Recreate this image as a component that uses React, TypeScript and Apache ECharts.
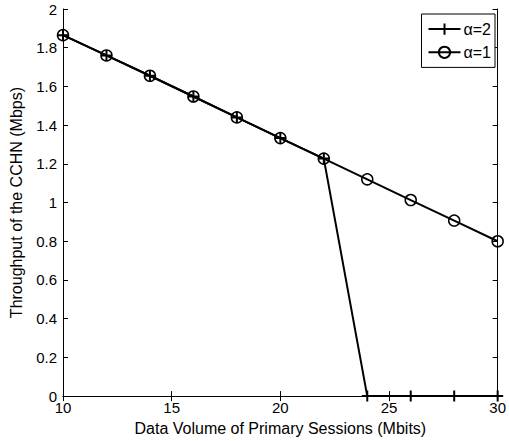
import React, { useEffect, useRef } from "react";
import * as echarts from "echarts";

const xValues = [10, 12, 14, 16, 18, 20, 22, 24, 26, 28, 30];
const alpha2 = [1.865, 1.76, 1.655, 1.548, 1.44, 1.333, 1.227, 0, 0, 0, 0];
const alpha1 = [1.865, 1.76, 1.655, 1.548, 1.44, 1.333, 1.227, 1.12, 1.013, 0.907, 0.8];
const seriesNames = ["\u03b1=2", "\u03b1=1"];
const xTitle = "Data Volume of Primary Sessions (Mbits)";
const yTitle = "Throughput of the CCHN (Mbps)";

const FONT = "Liberation Sans, Arial, Helvetica, sans-serif";
const plusPath = "path://M0,5L10,5M5,0L5,10";

export default function App() {
  const ref = useRef<HTMLDivElement>(null);
  useEffect(() => {
    document.body.style.margin = "0";
    const chart = echarts.init(ref.current!, undefined, { renderer: "svg" });
    const axisCommon = {
      axisLine: { show: true, lineStyle: { color: "#000", width: 1 } },
      axisTick: { show: true, inside: true, length: 5, lineStyle: { color: "#000" } },
      splitLine: { show: false },
    };
    chart.setOption({
      animation: false,
      backgroundColor: "#fff",
      textStyle: { fontFamily: FONT },
      grid: { left: 55, right: 8, top: 9, bottom: 44, containLabel: false },
      legend: {
        right: 14,
        top: 14,
        orient: "vertical",
        itemWidth: 32,
        itemHeight: 14,
        itemGap: 7,
        padding: [7, 4, 7, 6],
        borderColor: "#000",
        borderWidth: 1,
        backgroundColor: "#fff",
        borderRadius: 0,
        textStyle: { fontFamily: FONT, fontSize: 16, color: "#000", padding: [0, 0, 0, -2] },
        data: [{ name: seriesNames[0] }, { name: seriesNames[1] }],
      },
      xAxis: [
        {
          type: "value",
          min: 10,
          max: 30,
          interval: 5,
          ...axisCommon,
          axisLabel: { color: "#000", fontSize: 15, fontFamily: FONT, margin: 4 },
          name: xTitle,
          nameLocation: "middle",
          nameGap: 23,
          nameTextStyle: { color: "#000", fontSize: 16, fontFamily: FONT },
        },
        {
          type: "value",
          position: "top",
          min: 10,
          max: 30,
          interval: 5,
          ...axisCommon,
          axisLabel: { show: false },
        },
      ],
      yAxis: [
        {
          type: "value",
          min: 0,
          max: 2,
          interval: 0.2,
          ...axisCommon,
          axisLabel: { color: "#000", fontSize: 15, fontFamily: FONT, margin: 6 },
          name: yTitle,
          nameLocation: "middle",
          nameGap: 39,
          nameTextStyle: { color: "#000", fontSize: 16, fontFamily: FONT },
        },
        {
          type: "value",
          position: "right",
          min: 0,
          max: 2,
          interval: 0.2,
          ...axisCommon,
          axisLabel: { show: false },
        },
      ],
      series: [
        {
          name: seriesNames[0],
          type: "line",
          data: xValues.map((x, i) => [x, alpha2[i]]),
          symbol: plusPath,
          symbolSize: 11,
          showAllSymbol: true,
          lineStyle: { color: "#000", width: 2 },
          itemStyle: { color: "none", borderColor: "#000", borderWidth: 2 },
          z: 3,
        },
        {
          name: seriesNames[1],
          type: "line",
          data: xValues.map((x, i) => [x, alpha1[i]]),
          symbol: "circle",
          symbolSize: 11,
          showAllSymbol: true,
          lineStyle: { color: "#000", width: 2 },
          itemStyle: { color: "none", borderColor: "#000", borderWidth: 1.5 },
          z: 2,
        },
      ],
    });
    return () => chart.dispose();
  }, []);
  return <div ref={ref} style={{ width: 509, height: 441 }} />;
}
